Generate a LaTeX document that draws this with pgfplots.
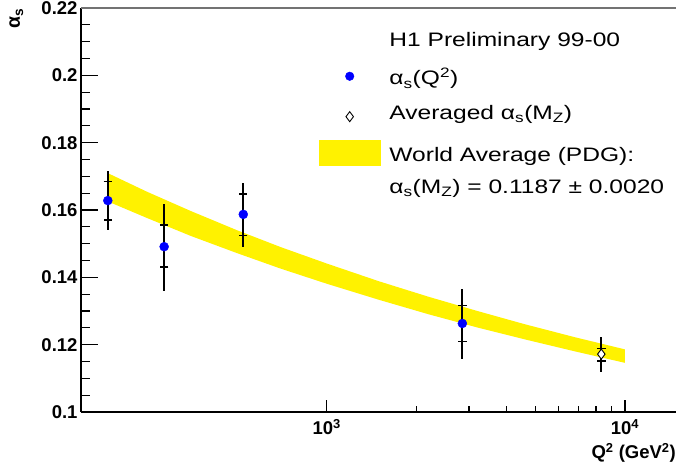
\documentclass[border=0pt]{standalone}
\usepackage{pgfplots}
\pgfplotsset{compat=1.18}
\usepackage{fontspec}
\setmainfont{Liberation Sans}
\newfontfamily\legfont[FakeStretch=1.26]{Liberation Sans}
\newcommand\tickfont{\bfseries\fontsize{18.5bp}{20bp}\selectfont}
\newcommand\lfont{\legfont\fontsize{19.5bp}{21bp}\selectfont}
\begin{document}
\begin{tikzpicture}
\begin{axis}[
  name=ax,
  scale only axis, width=596.5bp, height=404bp,
  xmode=log, xmin=150, xmax=15000, ymin=0.1, ymax=0.22,
  axis x line=bottom, axis y line=left,
  axis line style={line width=1.5bp, black, -},
  tick align=inside,
  tick style={line width=1.3bp, black},
  major tick length=17bp, minor tick length=9bp,
  major x tick style={/pgfplots/major tick length=12bp},
  minor x tick style={/pgfplots/minor tick length=6bp},
  xtick={1000,10000}, xticklabels={10\textsuperscript{3},10\textsuperscript{4}},
  ytick={0.1,0.12,0.14,0.16,0.18,0.2,0.22},
  yticklabels={0.1,0.12,0.14,0.16,0.18,0.2,0.22},
  minor y tick num=3,
  ticklabel style={font=\tickfont},
  xticklabel style={yshift=-4bp},
  xlabel={Q\textsuperscript{2} (GeV\textsuperscript{2})},
  ylabel={α\textsubscript{s}},
  every axis x label/.style={at={(rel axis cs:0.9975,-0.1163)}, anchor=base east, font=\tickfont, inner sep=0pt},
  every axis y label/.style={at={(rel axis cs:-0.1023,1)}, anchor=base east, rotate=90, font=\bfseries\fontsize{19.5bp}{21bp}\selectfont, inner sep=0pt},
  legend style={at={(rel axis cs:0.399,0.9612)}, anchor=north west, draw=none, fill=none,
    inner sep=0pt, outer sep=0pt, row sep=0pt, column sep=7bp, font=\lfont,
    cells={anchor=base west, inner sep=0pt}},
]
% World average band (PDG)
\addplot[fill=yellow, draw=none, forget plot] coordinates {
 (185,0.1709) (250,0.1654) (350,0.1597) (500,0.1540) (700,0.1490) (1000,0.1441)
 (1500,0.1388) (2200,0.1342) (3200,0.1300) (4600,0.1261) (6800,0.1222) (10000,0.1186)
 (10000,0.1146) (6800,0.1180) (4600,0.1216) (3200,0.1251) (2200,0.1290) (1500,0.1333)
 (1000,0.1381) (700,0.1426) (500,0.1472) (350,0.1523) (250,0.1576) (185,0.1625)
} -- cycle;
% total errors
\addplot[black, only marks, mark=none, forget plot,
  error bars/.cd, y dir=both, y explicit, error mark=none,
  error bar style={line width=2bp, black}]
 table[x=q, y=a, y error plus=op, y error minus=om] {
 q a op om
 184.5 0.1628 0.0089 0.0087
 285 0.1491 0.0127 0.0132
 525 0.1587 0.0092 0.0098
 2849 0.1263 0.0102 0.0107
 8329 0.1172 0.0050 0.0052
};
% inner errors
\addplot[black, only marks, mark=none, forget plot,
  error bars/.cd, y dir=both, y explicit,
  error bar style={line width=2bp, black},
  error mark options={rotate=90, line width=1.5bp, mark size=4.2bp, black}]
 table[x=q, y=a, y error plus=ip, y error minus=im] {
 q a ip im
 184.5 0.1628 0.0056 0.0058
 285 0.1491 0.0064 0.0061
 525 0.1587 0.0061 0.0063
 2849 0.1263 0.0054 0.0054
 8329 0.1172 0.0017 0.0020
};
% alpha_s(Q^2)
\addplot[only marks, mark=*, mark size=4.5bp, blue, mark options={draw=none, fill=blue}, forget plot]
 coordinates {(184.5,0.1628) (285,0.1491) (525,0.1587) (2849,0.1263)};
% averaged alpha_s(MZ)
\addplot[only marks, mark=diamond*, mark size=5bp, black, mark options={line width=0.9bp, draw=black, fill=white}, forget plot]
 coordinates {(8329,0.1172)};
\draw[line width=1.5bp, black!55] (rel axis cs:0,1) -- (rel axis cs:1,1);

\addlegendimage{empty legend}
\addlegendentry[text height=21bp, text depth=13.3bp]{H1 Preliminary 99-00}
\addlegendimage{legend image code/.code={\path[draw=none] (0bp,0bp) -- (61bp,0bp); \draw[blue, fill=blue, mark=*, mark size=4.3bp, only marks, mark options={draw=none}] plot coordinates {(30.5bp,8.7bp)};}}
\addlegendentry[text height=21bp, text depth=9.3bp]{α\textsubscript{s}(Q\textsuperscript{2})}
\addlegendimage{legend image code/.code={\path[draw=none] (0bp,0bp) -- (61bp,0bp); \draw[black, mark=diamond, mark size=5bp, line width=0.9bp, only marks] plot coordinates {(30.5bp,2.6bp)};}}
\addlegendentry[text height=21bp, text depth=16.9bp]{Averaged α\textsubscript{s}(M\textsubscript{Z})}
\addlegendimage{legend image code/.code={\fill[yellow] (0bp,-4.3bp) rectangle (61bp,20.7bp);}}
\addlegendentry[text height=21bp, text depth=7.5bp]{World Average (PDG):}
\addlegendimage{empty legend}
\addlegendentry[text height=21bp, text depth=8bp]{α\textsubscript{s}(M\textsubscript{Z}) = 0.1187 ± 0.0020}
\end{axis}
\pgfresetboundingbox
\path[use as bounding box] ([shift={(-81bp,-58bp)}]ax.south west) rectangle ([shift={(595bp,412bp)}]ax.south west);
\end{tikzpicture}
\end{document}
